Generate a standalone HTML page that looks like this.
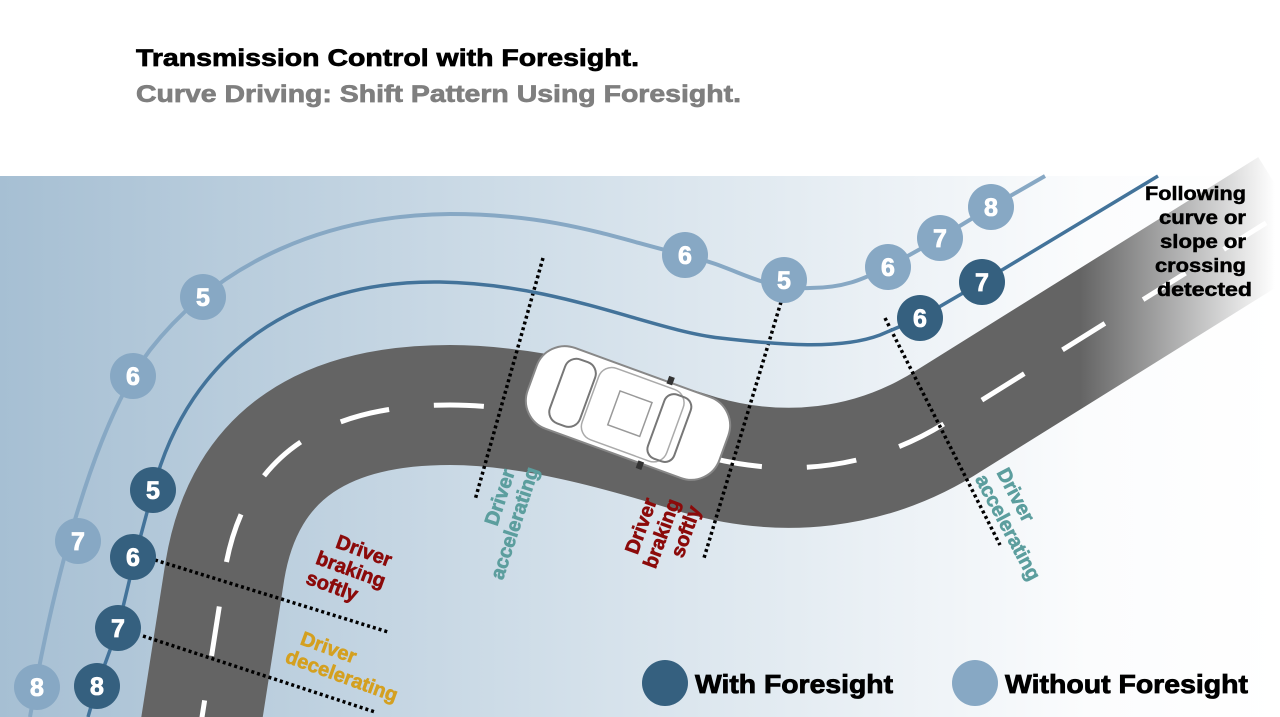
<!DOCTYPE html>
<html><head><meta charset="utf-8"><style>
html,body{margin:0;padding:0;background:#fff;}
svg{display:block;font-family:"Liberation Sans",Arial,sans-serif;}
</style></head><body>
<svg width="1280" height="717" viewBox="0 0 1280 717" xmlns="http://www.w3.org/2000/svg">
<defs>
<linearGradient id="bg" x1="0" y1="0" x2="1" y2="0">
<stop offset="0" stop-color="#a6bfd3"/><stop offset="0.45" stop-color="#d3e0ea"/><stop offset="0.85" stop-color="#fbfcfd"/><stop offset="1" stop-color="#ffffff"/>
</linearGradient>
<linearGradient id="road" gradientUnits="userSpaceOnUse" x1="1080" y1="0" x2="1275" y2="0">
<stop offset="0" stop-color="#646464"/><stop offset="1" stop-color="#646464" stop-opacity="0"/>
</linearGradient>
</defs>
<rect x="0" y="176" width="1280" height="541" fill="url(#bg)"/>
<text x="136" y="66" font-size="24" font-weight="bold" fill="#000" stroke="#000" stroke-width="0.7" textLength="503" lengthAdjust="spacingAndGlyphs">Transmission Control with Foresight.</text>
<text x="136" y="102" font-size="24" font-weight="bold" fill="#7f7f7f" stroke="#7f7f7f" stroke-width="0.7" textLength="605" lengthAdjust="spacingAndGlyphs">Curve Driving: Shift Pattern Using Foresight.</text>

<!-- road -->
<path d="M200 730 L225 570 C245 450 330 405 450 405 C530 405 620 430 700 455 C780 478 870 472 950 420 L1290 208" fill="none" stroke="url(#road)" stroke-width="120"/>
<path d="M200 730 L225 570 C245 450 330 405 450 405 C530 405 620 430 700 455 C780 478 870 472 950 420 L1290 208" fill="none" stroke="#fff" stroke-width="5" stroke-dasharray="50 45" stroke-dashoffset="20"/>

<!-- car -->
<g transform="translate(628,413) rotate(20)">
<rect x="-102" y="-43" width="204" height="86" rx="30" fill="#fff" stroke="#888" stroke-width="2"/>
<rect x="-75" y="-34" width="32" height="68" rx="12" fill="none" stroke="#777" stroke-width="2"/>
<rect x="-40" y="-38" width="90" height="76" rx="14" fill="none" stroke="#aaa" stroke-width="1.5"/>
<rect x="-15" y="-18" width="34" height="36" fill="none" stroke="#999" stroke-width="1.5"/>
<rect x="30" y="-34" width="28" height="68" rx="10" fill="none" stroke="#777" stroke-width="2"/>
<rect x="26" y="-49" width="6" height="8" fill="#333"/><rect x="26" y="41" width="6" height="8" fill="#333"/>
</g>

<!-- dotted lines -->
<g stroke="#000" stroke-width="3.5" stroke-dasharray="3 3" fill="none">
<line x1="543" y1="258" x2="475" y2="500"/>
<line x1="781" y1="302" x2="704" y2="558"/>
<line x1="885" y1="318" x2="1000" y2="545"/>
<line x1="155" y1="560" x2="388" y2="632"/>
<line x1="143" y1="636" x2="375" y2="712"/>
</g>

<!-- without foresight -->
<path d="M30 717 C50 600 90 430 150 350 C220 260 330 215 450 214 C560 214 620 240 685 255 C740 268 760 290 810 288 C850 288 870 275 888 267 L940 238 L991 207 L1045 176" fill="none" stroke="#87a8c4" stroke-width="4"/>
<!-- with foresight -->
<path d="M88 717 L97 686 L118 628 L135 557 L153 490 C190 350 300 280 440 282 C560 284 650 330 720 338 C780 345 840 350 880 335 L920 318 L982 282 L1158 176" fill="none" stroke="#43739a" stroke-width="3.5"/>

<g font-size="25" font-weight="bold" fill="#fff" text-anchor="middle">
<g fill="#87a8c4">
<circle cx="37" cy="687" r="23"/><circle cx="78" cy="541" r="23"/><circle cx="133" cy="376" r="23"/><circle cx="203" cy="297" r="23"/>
<circle cx="685" cy="255" r="23"/><circle cx="784" cy="280" r="23"/><circle cx="888" cy="267" r="23"/><circle cx="940" cy="238" r="23"/><circle cx="991" cy="207" r="23"/>
<circle cx="975" cy="683" r="23"/>
</g>
<g fill="#35607f">
<circle cx="97" cy="686" r="23"/><circle cx="118" cy="628" r="23"/><circle cx="133" cy="557" r="23"/><circle cx="153" cy="490" r="23"/>
<circle cx="920" cy="318" r="23"/><circle cx="982" cy="282" r="23"/>
<circle cx="665" cy="683" r="23"/>
</g>
<g stroke="#fff" stroke-width="0.8">
<text x="37" y="696">8</text><text x="78" y="550">7</text><text x="133" y="385">6</text><text x="203" y="306">5</text>
<text x="685" y="264">6</text><text x="784" y="289">5</text><text x="888" y="276">6</text><text x="940" y="247">7</text><text x="991" y="216">8</text>
<text x="97" y="695">8</text><text x="118" y="637">7</text><text x="133" y="566">6</text><text x="153" y="499">5</text>
<text x="920" y="327">6</text><text x="982" y="291">7</text>
</g>
</g>

<!-- legend -->
<text x="695" y="693" font-size="26" font-weight="bold" fill="#000" stroke="#000" stroke-width="0.8" textLength="198" lengthAdjust="spacingAndGlyphs">With Foresight</text>
<text x="1005" y="693" font-size="26" font-weight="bold" fill="#000" stroke="#000" stroke-width="0.8" textLength="243" lengthAdjust="spacingAndGlyphs">Without Foresight</text>

<g font-size="19" font-weight="bold" fill="#000" stroke="#000" stroke-width="0.5">
<text x="1145" y="200" textLength="101" lengthAdjust="spacingAndGlyphs">Following</text>
<text x="1159" y="224" textLength="87" lengthAdjust="spacingAndGlyphs">curve or</text>
<text x="1160" y="248" textLength="86" lengthAdjust="spacingAndGlyphs">slope or</text>
<text x="1155" y="272" textLength="91" lengthAdjust="spacingAndGlyphs">crossing</text>
<text x="1157" y="296" textLength="95" lengthAdjust="spacingAndGlyphs">detected</text>
</g>

<g font-size="20" font-weight="bold" text-anchor="middle" stroke-width="0.6">
<g fill="#5c9e9e" stroke="#5c9e9e" transform="translate(508,500) rotate(-72)"><text x="0" y="-2">Driver</text><text x="-20" y="20">accelerating</text></g>
<g fill="#8b0a0a" stroke="#8b0a0a" transform="translate(666,535) rotate(-70)"><text x="0" y="-20">Driver</text><text x="0" y="2">braking</text><text x="10" y="24">softly</text></g>
<g fill="#5c9e9e" stroke="#5c9e9e" transform="translate(1018,522) rotate(62)"><text x="-25" y="-4">Driver</text><text x="0" y="18">accelerating</text></g>
<g fill="#8b0a0a" stroke="#8b0a0a" transform="translate(350,572) rotate(20)"><text x="6" y="-18">Driver</text><text x="0" y="4">braking</text><text x="-12" y="26">softly</text></g>
<g fill="#d4a020" stroke="#d4a020" transform="translate(345,667) rotate(20)"><text x="-22" y="-6">Driver</text><text x="0" y="16">decelerating</text></g>
</g>
</svg>
</body></html>
